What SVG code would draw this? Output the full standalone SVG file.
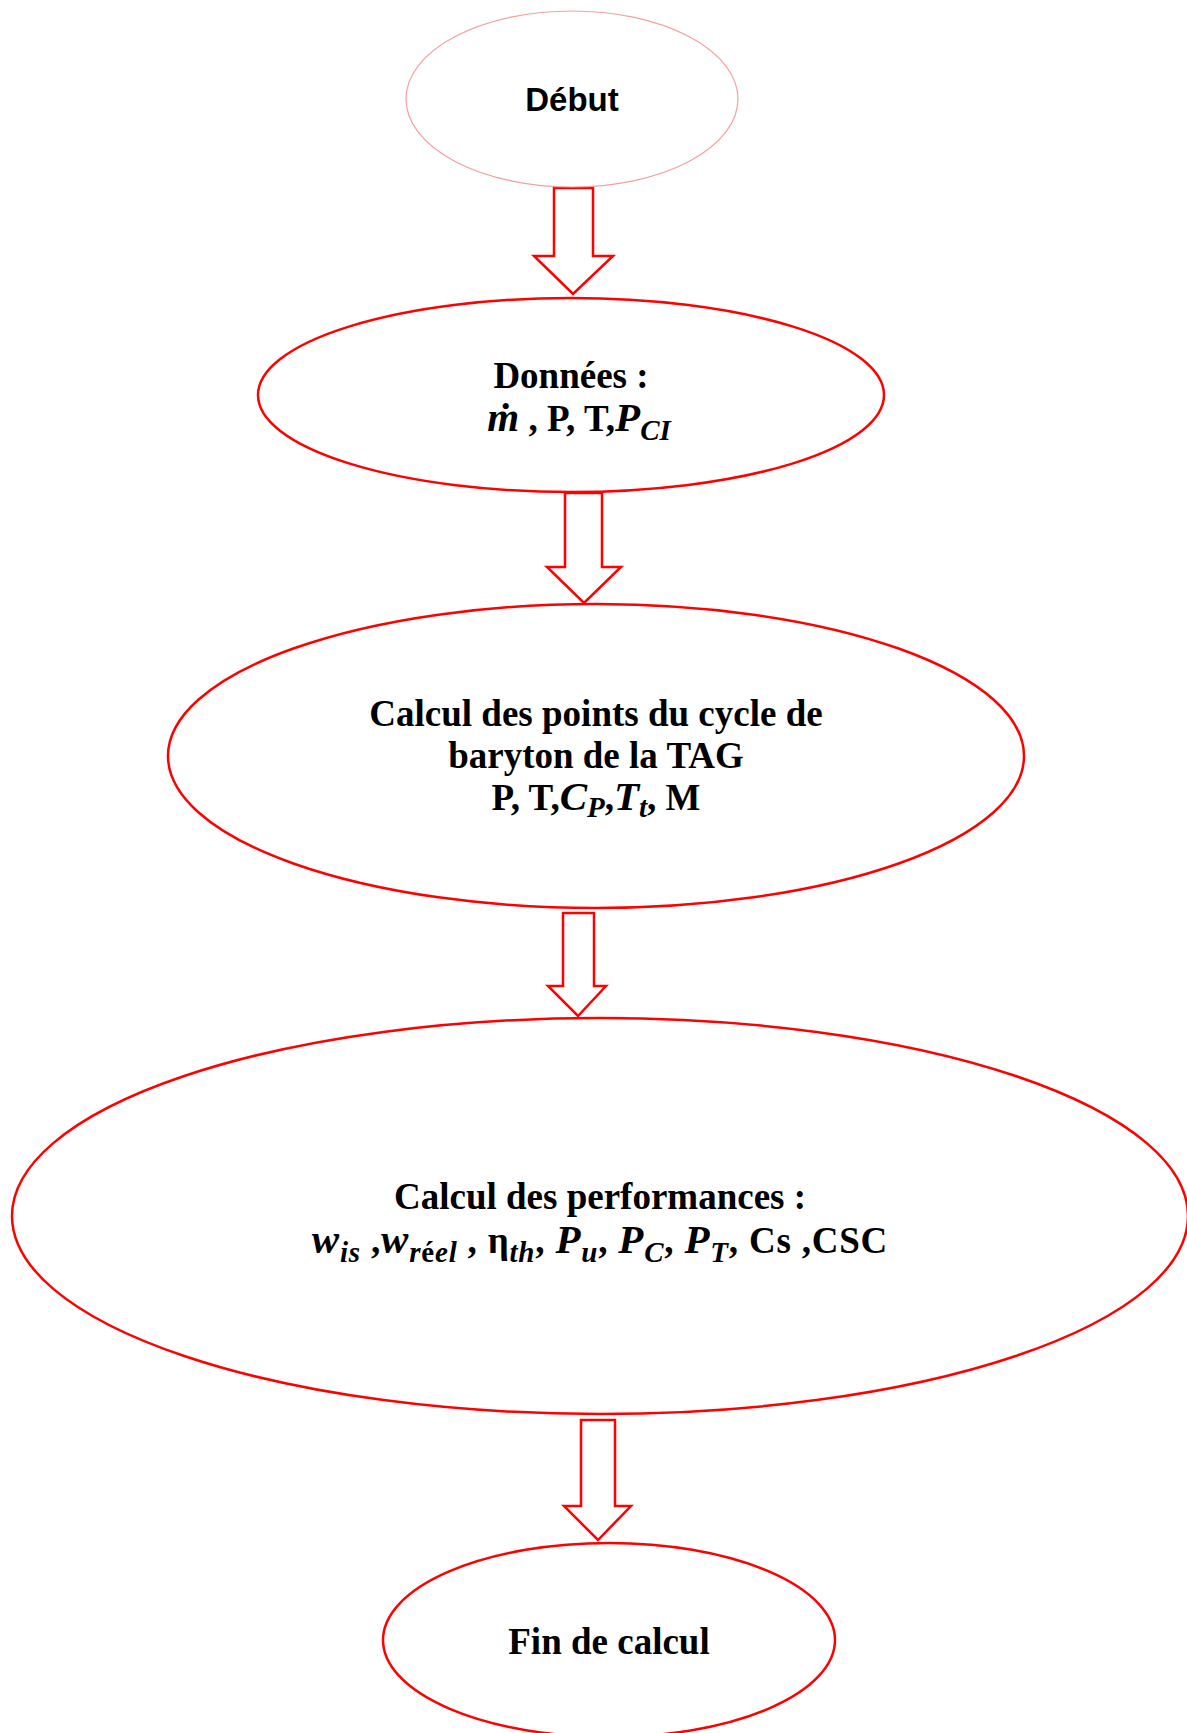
<svg xmlns="http://www.w3.org/2000/svg" width="1187" height="1733" viewBox="0 0 1187 1733">
<style>
.node{fill:#ffffff;stroke:#ff0000;stroke-width:2.5}
.start{fill:#ffffff;stroke:#f4a0a0;stroke-width:1.2}
.arrow{fill:#ffffff;stroke:#ff0000;stroke-width:2.5;stroke-linejoin:miter}
.t{font-family:"Liberation Serif","Times New Roman",serif;font-weight:bold;font-size:37px;fill:#000000}
.ts{font-family:"Liberation Sans",Arial,sans-serif;font-weight:bold;font-size:33px;fill:#000000}
.m{font-style:italic;font-size:41px}
.s{font-size:29px}
</style>
<rect width="1187" height="1733" fill="#ffffff"/>
<g id="connectors">
<polygon class="arrow" points="554,188 593,188 593,256 613,256 573,294 534,256 554,256"/>
<polygon class="arrow" points="565,493 602,493 602,567 621,567 584,603 547,567 565,567"/>
<polygon class="arrow" points="563,913 594,913 594,986 606,986 578,1016 548,986 563,986"/>
<polygon class="arrow" points="581,1420 615,1420 615,1506 631,1506 598,1540 564,1506 581,1506"/>
</g>
<g id="debut">
<ellipse class="start" cx="572" cy="99" rx="166" ry="88"/>
<text class="ts" x="572" y="111" text-anchor="middle">Début</text>
</g>
<g id="donnees">
<ellipse class="node" cx="571" cy="395" rx="313" ry="97"/>
<text class="t" x="571" y="388" text-anchor="middle">Données :</text>
<text class="t" x="579" y="431" text-anchor="middle"><tspan class="m">ṁ</tspan> , P, T,<tspan class="m">P</tspan><tspan class="m s" dy="9">CI</tspan></text>
</g>
<g id="calcul-points">
<ellipse class="node" cx="596" cy="756" rx="428" ry="152"/>
<text class="t" x="596" y="726" text-anchor="middle">Calcul des points du cycle de</text>
<text class="t" x="596" y="768" text-anchor="middle">baryton de la TAG</text>
<text class="t" x="596" y="810" text-anchor="middle">P, T,<tspan class="m">C</tspan><tspan class="m s" dy="7">P</tspan><tspan dy="-7">,</tspan><tspan class="m">T</tspan><tspan class="m s" dy="7">t</tspan><tspan dy="-7">, M</tspan></text>
</g>
<g id="calcul-performances">
<ellipse class="node" cx="600" cy="1216" rx="588" ry="198"/>
<text class="t" x="600" y="1209" text-anchor="middle">Calcul des performances :</text>
<text class="t" x="600" y="1253" text-anchor="middle" letter-spacing="0.8"><tspan class="m">w</tspan><tspan class="m s" dy="9">is</tspan><tspan dy="-9"> ,</tspan><tspan class="m">w</tspan><tspan class="m s" dy="9">r</tspan><tspan class="s">é</tspan><tspan class="m s">el</tspan><tspan dy="-9"> , η</tspan><tspan class="m s" dy="9">th</tspan><tspan dy="-9">, </tspan><tspan class="m">P</tspan><tspan class="m s" dy="9">u</tspan><tspan dy="-9">, </tspan><tspan class="m">P</tspan><tspan class="m s" dy="9">C</tspan><tspan dy="-9">, </tspan><tspan class="m">P</tspan><tspan class="m s" dy="9">T</tspan><tspan dy="-9">, Cs ,CSC</tspan></text>
</g>
<g id="fin">
<ellipse class="node" cx="609" cy="1640" rx="226" ry="97"/>
<text class="t" x="609" y="1654" text-anchor="middle">Fin de calcul</text>
</g>
</svg>
